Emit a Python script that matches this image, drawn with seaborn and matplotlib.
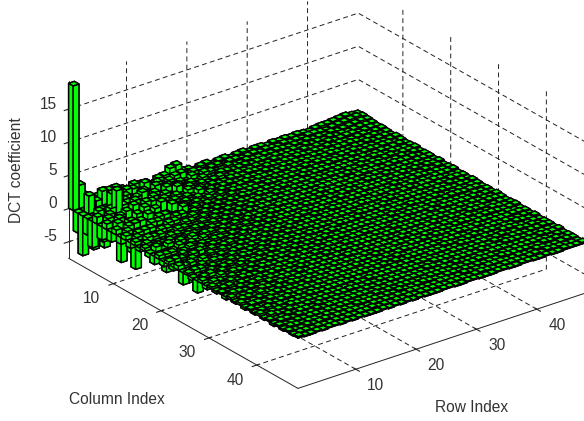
import numpy as np
import seaborn as sns
import matplotlib.pyplot as plt
from mpl_toolkits.mplot3d import proj3d

sns.set_style("white")
plt.rcParams['font.family'] = ['Liberation Sans', 'DejaVu Sans']

# coefficient table, in tenths: one list per row index, columns 1..48
rows_01_08 = [
    [188, -30, -60, -25, -40, 10, -20, 8, -15, 7, -10, 6, -8, 5, -5, 4, -6, -12, 5, -7, 4, -5, 6, -18, 3, -4, -18, 4, -5, 3, -3, 2, -4, 3, -2, 3, -3, 2, -2, 3, -2, 2, -3, 2, -2, 2, -1, 2],
    [35, -20, 27, -50, 12, -30, 9, -14, 10, -9, 6, -7, 5, -6, 4, -4, 7, -5, 4, -9, 5, -6, 3, -18, 5, -4, 3, -5, 4, -3, 2, -3, 3, -2, 2, -3, 2, -2, 1, -2, 3, -2, 2, -1, 2, -2, 1, -1],
    [16, 10, -30, -25, -46, 8, -22, 10, -16, 7, -9, 5, -7, 6, -4, 3, -5, -30, 4, -6, 3, -7, 5, -4, 4, -3, 5, -4, 2, -3, 3, -2, 2, -3, 2, -1, 2, -2, 3, -2, 1, -2, 2, -1, 1, -2, 1, -1],
    [-15, 9, -14, -35, 10, -28, 7, -25, -10, 8, -7, 6, -5, 4, -5, 3, 6, -4, -12, 3, -5, 4, -6, 3, -4, 3, -3, 4, -2, 3, -2, 2, -3, 1, -2, 2, -1, 2, -2, 1, -2, 2, -1, 1, -1, 2, -1, 1],
    [9, 21, -12, 25, 34, -70, 11, -18, -68, 9, -10, 6, -8, 5, -4, 4, -9, 5, -3, -10, 4, -3, 5, -5, 2, -4, 3, -2, 3, -3, 1, -2, 2, -2, 3, -1, 2, -2, 1, -1, 2, -1, 2, -2, 1, -1, 1, -1],
    [14, 19, -45, 27, 9, -20, -55, 8, -12, -22, 7, -6, 5, -5, 4, -3, 5, -8, 4, -3, 6, -2, -8, 3, -3, 2, -4, 3, -2, 2, -3, 2, -1, 2, -2, 1, -2, 1, -1, 2, -1, 1, -2, 1, -1, 1, -1, 1],
    [10, 15, -50, 10, -38, 10, -14, -30, 9, -10, 6, -8, 4, -4, 3, -3, -6, 3, -5, 4, -2, 3, -4, 2, -5, 3, -2, 2, -3, 1, -2, 3, -2, 1, -1, 2, -1, 2, -1, 1, -2, 1, -1, 1, -1, 2, -1, 1],
    [13, -10, 9, -34, 10, -24, 8, -11, -26, 6, -7, 5, -5, 4, -3, 3, 5, -3, 2, -6, 3, -4, 2, -3, 3, -2, 3, -1, 2, -2, 1, -2, 2, -1, 2, -1, 1, -2, 1, -1, 1, -1, 2, -1, 1, -1, 1, -1],
]
rows_09_16 = [
    [8, 11, -26, 8, -13, 9, -30, 7, -9, 6, -18, 5, -4, 3, -4, 2, -3, 4, -5, 2, -3, 3, -2, 3, -4, 1, -2, 2, -1, 2, -2, 1, -1, 2, -1, 1, -2, 1, -1, 1, -1, 2, -1, 1, -1, 1, -1, 1],
    [-7, 9, -8, 12, -20, 7, -9, 14, -7, -20, 5, -6, 4, -3, 3, -2, 4, -2, 3, -3, 2, -4, 1, -2, 2, -3, 2, -1, 2, -1, 1, -2, 1, -1, 2, -1, 1, -1, 2, -1, 1, -1, 1, -1, 1, -2, 1, -1],
    [9, -6, 8, -9, 7, -16, 6, -8, 12, -5, 5, -13, 3, -4, 2, -3, 3, -4, 2, -2, 3, -1, 2, -3, 1, -2, 2, -2, 1, -1, 2, -1, 1, -2, 1, -1, 1, -1, 1, -2, 1, -1, 1, 1, -1, 1, -1, 1],
    [6, 12, -7, 6, -8, 5, -12, 5, -6, 9, -4, 4, -3, 3, -3, 2, -2, 3, -1, 2, -3, 2, -2, 1, -2, 2, -1, 2, -1, 1, -2, 1, -1, 1, -1, 2, -1, 1, -1, 1, -1, 1, -2, 1, -1, 1, 1, -1],
    [5, -5, 9, -6, 5, -6, 4, -9, 4, -4, 3, -8, 3, -2, 3, -2, 2, -3, 2, -1, 2, -2, 1, -2, 3, -1, 1, -2, 1, -1, 1, -1, 2, -1, 1, -1, 1, -2, 1, -1, 1, -1, 1, -1, 2, -1, 1, -1],
    [-4, 7, -4, 8, -5, 4, -5, 3, -4, 3, -3, 3, -2, 3, -2, 2, -3, 2, -1, 3, -2, 1, -2, 2, -1, 2, -1, 1, -2, 1, -1, 2, -1, 1, -1, 1, -2, 1, 1, -1, 1, -1, 1, -1, 1, -1, 2, -1],
    [6, -3, 4, -4, 10, -4, 3, -4, 3, -5, 2, -3, 2, -2, 2, -2, 3, -1, 2, -2, 1, -3, 2, -1, 2, -1, 1, -1, 2, -1, 1, -1, 1, -2, 1, -1, 1, -1, 1, -1, 2, -1, 1, -1, 1, 1, -1, 1],
    [7, 4, -3, 5, -3, 6, -3, 3, -3, 2, -3, 2, -2, 2, -2, 1, -2, 3, -2, 1, -1, 2, -1, 2, -2, 1, -1, 2, -1, 1, -1, 1, -2, 1, -1, 1, 1, -1, 1, -1, 1, -2, 1, -1, 1, -1, 1, -1],
]
rows_17_24 = [
    [15, 8, 3, -3, 4, -3, 7, -2, 3, -2, 2, -2, 2, -1, 2, -1, 3, -1, 2, -2, 2, -1, 1, -2, 1, -1, 2, -1, 1, -1, 1, -2, 1, -1, 1, -1, 1, 1, -1, 1, -1, 1, -1, 2, -1, 1, -1, 1],
    [17, 9, -3, 3, -3, 3, -2, 4, -2, 2, -2, 2, -1, 2, -1, 1, -2, 2, -1, 1, -2, 2, -1, 1, -1, 2, -1, 1, -1, 2, -1, 1, -1, 1, -2, 1, -1, 1, 1, -1, 1, -1, 1, -1, 1, -1, 1, -1],
    [5, -3, 6, -2, 3, -3, 2, -2, 3, -2, 2, -1, 2, -1, 2, -2, 1, -1, 2, -1, 1, -1, 2, -1, 1, -2, 1, -1, 1, -1, 2, -1, 1, -1, 1, 1, -1, 1, -1, 2, -1, 1, -1, 1, -1, 1, -1, 1],
    [4, 5, -2, 4, -3, 2, -3, 2, -1, 3, -2, 1, -2, 2, -1, 1, -1, 2, -1, 1, -1, 2, -1, 1, -1, 1, -1, 2, -1, 1, -1, 1, -1, 1, -1, 2, -1, 1, -1, 1, 1, -1, 1, -1, 2, -1, 1, -1],
    [-3, 3, 5, -2, 2, -3, 1, -2, 2, -1, 2, -1, 1, -2, 1, -1, 2, -1, 1, -1, 1, -2, 1, -1, 2, -1, 1, -1, 1, -1, 1, -1, 2, -1, 1, -1, 1, -1, 1, 1, -1, 1, -1, 1, -1, 1, -1, 1],
    [3, -2, 3, -2, 4, -1, 2, -2, 1, -2, 1, -1, 2, -1, 1, -1, 1, -2, 1, -1, 2, -1, 1, -1, 1, -1, 2, -1, 1, -1, 1, -2, 1, -1, 1, -1, 1, 1, -1, 1, -2, 1, -1, 1, -1, 1, 1, -1],
    [4, 2, -2, 3, -1, 2, -2, 1, -2, 1, -1, 2, -1, 1, -1, 2, -1, 1, -1, 1, -1, 1, -2, 1, -1, 1, -1, 1, -1, 2, -1, 1, -1, 1, -1, 1, -1, 2, -1, 1, -1, 1, 1, -1, 1, -1, 1, -1],
    [-2, 3, -1, 2, -2, 1, -2, 2, -1, 1, -2, 1, -1, 1, -1, 1, -2, 1, -1, 2, -1, 1, -1, 1, -1, 2, -1, 1, -1, 1, 1, -1, 1, -1, 2, -1, 1, -1, 1, -1, 1, -1, 1, -1, 2, -1, 1, -1],
]
rows_25_32 = [
    [2, -1, 3, -2, 1, -2, 1, -1, 2, -1, 1, -1, 2, -1, 1, -2, 1, -1, 1, -1, 2, -1, 1, -1, 1, -1, 1, -2, 1, -1, 1, 1, -1, 1, -1, 1, -1, 2, -1, 1, 1, -1, 1, -1, 1, -1, 1, 1],
    [3, 2, -1, 1, -2, 2, -1, 1, -1, 2, -1, 1, -1, 1, -1, 1, -1, 2, -1, 1, -1, 1, -1, 1, 2, -1, 1, -1, 1, -1, 1, -1, 1, -1, 1, -1, 2, -1, 1, -1, 1, -1, 1, 1, -1, 1, -1, 1],
    [-2, 2, -1, 2, -1, 1, -2, 1, -1, 1, -1, 2, -1, 1, -1, 1, -1, 1, -2, 1, -1, 1, 1, -1, 1, -1, 1, -1, 2, -1, 1, -1, 1, -1, 1, 1, -1, 1, -1, 1, -1, 2, -1, 1, -1, 1, 1, -1],
    [2, -1, 2, -1, 1, -1, 2, -1, 1, -1, 1, -1, 1, -2, 1, -1, 1, -1, 1, -1, 2, -1, 1, -1, 1, -1, 1, -1, 1, 1, -1, 1, -1, 1, -1, 2, -1, 1, -1, 1, -1, 1, -1, 1, 1, -1, 1, -1],
    [3, 1, -2, 1, -1, 2, -1, 1, -1, 1, -2, 1, -1, 1, -1, 1, 2, -1, 1, -1, 1, -1, 1, -1, 2, -1, 1, -1, 1, -1, 1, -1, 1, 1, -1, 1, -1, 1, -1, 1, 2, -1, 1, -1, 1, -1, 1, 1],
    [-1, 2, -1, 1, -1, 1, -1, 2, -1, 1, -1, 1, -1, 1, -1, 2, -1, 1, -1, 1, -1, 1, -1, 2, -1, 1, -1, 1, 1, -1, 1, -1, 2, -1, 1, -1, 1, -1, 1, -1, 1, 1, -1, 1, -1, 2, -1, 1],
    [2, -1, 1, -1, 2, -1, 1, -1, 1, -1, 2, -1, 1, -1, 1, -1, 1, -1, 2, -1, 1, 1, -1, 1, -1, 1, -1, 1, -1, 2, -1, 1, -1, 1, 1, -1, 1, -1, 1, -1, 1, -1, 2, -1, 1, -1, 1, -1],
    [2, 2, -1, 1, -1, 1, -2, 1, -1, 1, -1, 1, 2, -1, 1, -1, 1, 1, -1, 1, -1, 2, -1, 1, -1, 1, -1, 1, -1, 1, 1, -1, 1, -1, 2, -1, 1, -1, 1, -1, 1, 1, -1, 1, -1, 1, 2, -1],
]
rows_33_40 = [
    [-1, 1, 2, -1, 1, -1, 1, -1, 2, -1, 1, -1, 1, -1, 1, 1, -1, 2, -1, 1, -1, 1, -1, 1, 1, -1, 2, -1, 1, -1, 1, -1, 1, 1, -1, 1, -1, 2, -1, 1, -1, 1, -1, 1, 1, -1, 1, -1],
    [2, -1, 1, -1, 1, 2, -1, 1, -1, 1, 1, -1, 2, -1, 1, -1, 1, -1, 1, 1, -1, 1, -1, 2, -1, 1, -1, 1, 1, -1, 1, -1, 1, -1, 2, -1, 1, 1, -1, 1, -1, 1, -1, 2, -1, 1, -1, 1],
    [1, 2, -1, 1, -1, 1, -1, 1, 2, -1, 1, -1, 1, 1, -1, 1, -1, 1, 2, -1, 1, -1, 1, -1, 1, 1, -1, 2, -1, 1, -1, 1, 1, -1, 1, -1, 1, -1, 2, -1, 1, -1, 1, 1, -1, 1, -1, 1],
    [2, -1, 1, -1, 2, -1, 1, -1, 1, 1, -1, 1, -1, 2, -1, 1, -1, 1, 1, -1, 1, -1, 2, -1, 1, -1, 1, 1, -1, 1, -1, 2, -1, 1, -1, 1, 1, -1, 1, -1, 1, 2, -1, 1, -1, 1, 1, -1],
    [1, 1, -1, 2, -1, 1, -1, 1, -1, 2, -1, 1, 1, -1, 1, -1, 2, -1, 1, -1, 1, 1, -1, 1, -1, 2, -1, 1, -1, 1, 1, -1, 1, -1, 1, 2, -1, 1, -1, 1, 1, -1, 1, -1, 2, -1, 1, -1],
    [2, -1, 2, -1, 1, -1, 1, 2, -1, 1, -1, 1, -1, 1, 2, -1, 1, -1, 1, -1, 2, -1, 1, 1, -1, 1, -1, 1, 2, -1, 1, -1, 1, 1, -1, 1, -1, 2, -1, 1, -1, 1, 1, -1, 1, -1, 1, 1],
    [1, 2, -1, 1, -1, 2, -1, 1, 1, -1, 1, -1, 2, -1, 1, 1, -1, 1, -1, 2, -1, 1, -1, 1, 1, -1, 1, 2, -1, 1, -1, 1, -1, 2, -1, 1, 1, -1, 1, -1, 2, -1, 1, -1, 1, 1, -1, 1],
    [-1, 2, 1, -1, 2, -1, 1, -1, 1, 2, -1, 1, -1, 1, 1, -1, 2, -1, 1, -1, 1, 2, -1, 1, -1, 1, 1, -1, 2, -1, 1, -1, 1, 1, -1, 2, -1, 1, -1, 1, -1, 2, -1, 1, 1, -1, 1, -1],
]
rows_41_48 = [
    [2, 1, -1, 2, -1, 1, 1, -1, 2, -1, 1, -1, 1, 2, -1, 1, -1, 1, 1, -1, 2, -1, 1, -1, 1, 2, -1, 1, 1, -1, 1, -1, 2, -1, 1, -1, 1, 1, -1, 2, -1, 1, -1, 1, 1, -1, 2, -1],
    [3, -1, 2, -1, 1, -1, 2, 1, -1, 1, -1, 2, -1, 1, 1, -1, 1, 2, -1, 1, -1, 1, 1, -1, 2, -1, 1, -1, 1, 1, -1, 2, -1, 1, 1, -1, 1, -1, 2, -1, 1, 1, -1, 1, -1, 2, -1, 1],
    [3, 2, -1, 1, 2, -1, 1, -1, 1, 2, -1, 1, 1, -1, 2, -1, 1, -1, 1, 2, -1, 1, -1, 1, 1, -1, 2, -1, 1, -1, 1, 1, -1, 2, -1, 1, -1, 1, 2, -1, 1, -1, 1, 1, -1, 1, 2, -1],
    [4, 3, 1, -1, 2, 1, -1, 2, -1, 1, 1, -1, 2, -1, 1, 1, -1, 2, -1, 1, -1, 2, 1, -1, 1, -1, 2, -1, 1, 1, -1, 1, -1, 2, -1, 1, 1, -1, 1, 2, -1, 1, -1, 1, 2, -1, 1, -1],
    [5, 4, 2, 1, -1, 2, 1, -1, 1, 2, -1, 1, -1, 2, 1, -1, 1, -1, 2, -1, 1, 1, -1, 2, -1, 1, 1, -1, 2, -1, 1, -1, 2, 1, -1, 1, -1, 2, -1, 1, 1, -1, 2, -1, 1, -1, 1, 2],
    [6, 5, 3, 2, 1, -1, 2, 1, -1, 2, 1, -1, 1, -1, 2, 1, -1, 2, -1, 1, 1, -1, 2, -1, 1, -1, 2, 1, -1, 1, 2, -1, 1, -1, 1, 2, -1, 1, -1, 2, 1, -1, 1, -1, 2, 1, -1, 1],
    [4, 6, 4, 2, 2, 1, -1, 2, 1, -1, 2, -1, 1, 2, -1, 1, -1, 1, 2, -1, 1, -1, 2, 1, -1, 1, 2, -1, 1, -1, 2, 1, -1, 1, -1, 2, 1, -1, 1, -1, 2, -1, 1, 1, -1, 2, -1, 1],
    [3, 4, 3, 2, 1, 2, 1, -1, 2, 1, -1, 1, 2, -1, 1, 1, -1, 2, -1, 1, 2, -1, 1, -1, 2, 1, -1, 1, -1, 2, 1, -1, 1, 2, -1, 1, -1, 2, -1, 1, 1, -1, 2, -1, 1, 1, -1, 2],
]

x_ticks = [10, 20, 30, 40]
y_ticks = [10, 20, 30, 40]
z_ticks = [-5, 0, 5, 10, 15]

all_rows = rows_01_08 + rows_09_16 + rows_17_24 + rows_25_32 + rows_33_40 + rows_41_48
coef = np.zeros((len(all_rows), 48))
for i, row in enumerate(all_rows):
    coef[i, :len(row)] = np.array(row) / 10

rr, cc = np.meshgrid(np.arange(1, coef.shape[0] + 1), np.arange(1, coef.shape[1] + 1), indexing="ij")
vals = coef.ravel()

fig = plt.figure(figsize=(5.84, 4.21), dpi=100)
ax = fig.add_axes([20 / 584, -73.6 / 421, 600 / 584, 600 / 421], projection="3d", proj_type="ortho")
ax.view_init(elev=25.7, azim=-127.4)
ax.set_box_aspect((364, 377, 197), zoom=0.907)

bar_w = 0.95
ax.bar3d(rr.ravel() - bar_w / 2, cc.ravel() - bar_w / 2, np.minimum(vals, 0), bar_w, bar_w, np.abs(vals),
         color="#00ff00", edgecolor="black", linewidth=1.05, shade=False)

xmin, xmax = 0.42, 48.4
ymin, ymax = 0.67, 48.6
zmin, zmax = -7.5, 19.3
ax.set_xlim(xmin, xmax)
ax.set_ylim(ymax, ymin)
ax.set_zlim(zmin, zmax)
ax.set_xticks(x_ticks)
ax.set_yticks(y_ticks)
ax.set_zticks(z_ticks)
ax.set_xticklabels([])
ax.set_yticklabels([])
ax.set_zticklabels([])

for axis in (ax.xaxis, ax.yaxis, ax.zaxis):
    axis.set_pane_color((1, 1, 1, 0))
    axis.pane.set_edgecolor((1, 1, 1, 0))
    axis.line.set_color("#222222")
    axis.line.set_linewidth(0.7)
    axis._axinfo["grid"].update(color="#222222", linestyle=(0, (5, 3.5)), linewidth=0.7)
    axis._axinfo["tick"]["color"] = "#222222"
ax.grid(True)

text_kw = dict(fontsize=11.2, color="#333333")


def tick_text(x, y, z, label, ha="center"):
    # place the label at the projected spot of a point just off the axis line
    x2, y2, _ = proj3d.proj_transform(x, y, z, ax.get_proj())
    ax.text2D(x2, y2, label, transform=ax.transData, ha=ha, va="center", **text_kw)


for t in x_ticks:
    tick_text(t - 0.87, ymax + 5.3, zmin, str(t))
for t in y_ticks:
    tick_text(xmin - 5.04, t + 1.82, zmin, str(t))
for t in z_ticks:
    tick_text(xmin - 2, ymin, t + 1.36, str(t), ha="right")

fig.text(17 / 584, 1 - 170 / 421, "DCT coefficient", rotation=90, ha="center", va="center", **text_kw)
fig.text(117 / 584, 1 - 400 / 421, "Column Index", ha="center", va="center", **text_kw)
fig.text(472 / 584, 1 - 408 / 421, "Row Index", ha="center", va="center", **text_kw)

fig.savefig("out.png", dpi=100)
